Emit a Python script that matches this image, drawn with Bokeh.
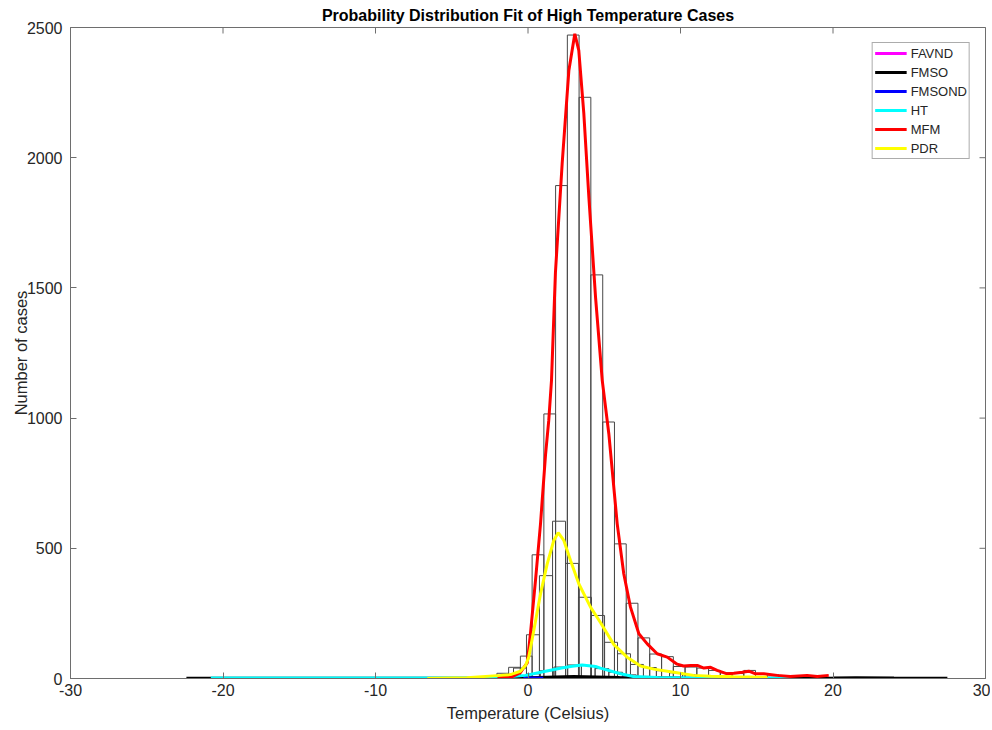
import math
from bokeh.plotting import figure
from bokeh.models import Range1d, LinearAxis, Legend, LegendItem, FixedTicker, PrintfTickFormatter
from bokeh.embed import file_html
from bokeh.resources import INLINE

# ---------------- data ----------------
x_ticks = [-30, -20, -10, 0, 10, 20, 30]
y_ticks = [0, 500, 1000, 1500, 2000, 2500]

# histogram of MFM cases
mfm_edges = [-2.04, -1.27, -0.50, 0.27, 1.04, 1.81, 2.58, 3.35, 4.12, 4.90, 5.67,
             6.44, 7.21, 7.98, 8.76, 9.53, 10.30, 11.07, 11.84, 12.61, 13.38,
             14.15, 14.92, 15.69, 16.46, 17.23, 18.00, 18.77, 19.54, 20.31]
mfm_counts = [20, 43, 86, 475, 1016, 1893, 2471, 2232, 1550, 985, 517,
              289, 156, 94, 84, 46, 44, 40, 31, 22, 19,
              31, 19, 14, 9, 8, 10, 6, 4]

# histogram of PDR cases
pdr_edges = [-1.80, -0.95, -0.10, 0.75, 1.61, 2.46, 3.31, 4.16, 5.02, 5.87, 6.72,
             7.57, 8.42, 9.28, 10.13, 10.98, 11.83, 12.68, 13.54, 14.39, 15.24]
pdr_counts = [10, 40, 168, 395, 604, 442, 312, 242, 139, 95,
              54, 42, 30, 22, 14, 10, 8, 6, 4, 3]

# histogram of HT cases
ht_edges = [-1.0, -0.1, 0.8, 1.7, 2.6, 3.5, 4.4, 5.3, 6.2, 7.1, 8.0]
ht_counts = [8, 18, 30, 44, 52, 50, 38, 24, 14, 8]

# fitted curves
favnd_x = [0.9, 2.0, 4.0, 6.0, 7.8]
favnd_y = [1, 2, 2, 1.5, 1]

fmso_x = [-22.4, -15.0, -8.0, -3.0, 0.0, 3.0, 6.0, 10.0, 15.0, 20.0, 21.5, 24.0, 27.5]
fmso_y = [1, 1, 1, 1.5, 3, 8, 4, 2, 1, 2, 3, 2, 1]

fmsond_x = [-0.3, 0.2, 0.6, 1.0]
fmsond_y = [1, 2, 2, 1]

ht_x = [-20.8, -15.0, -10.0, -6.0, -3.0, -1.5, -0.16, 1.15, 2.2, 2.9, 3.55,
        4.43, 4.75, 6.07, 6.9, 8.5, 11.0, 14.0, 17.2]
ht_y = [2, 2, 2, 2, 3, 6, 12, 28, 40, 47, 52, 46, 40, 18, 8, 4, 2, 1, 1]

mfm_x = [-2.0, -1.0, -0.5, -0.3, -0.05, 0.16, 0.49, 0.82, 1.15, 1.36, 1.54, 1.80,
         2.24, 2.68, 3.07, 3.33, 3.66, 3.99, 4.43, 4.87, 5.30, 5.85, 6.28, 6.72,
         7.27, 7.82, 8.47, 9.13, 9.78, 10.2, 10.66, 11.1, 11.53, 11.97, 12.4,
         13.06, 13.5, 14.05, 14.48, 14.92, 15.46, 16.34, 17.2, 18.3, 18.97, 19.72]
mfm_y = [2, 8, 22, 40, 60, 172, 376, 594, 860, 990, 1144, 1560,
         1977, 2335, 2476, 2412, 2170, 1849, 1464, 1144, 940, 594, 402, 274,
         172, 133, 95, 82, 55, 48, 50, 50, 40, 43, 31,
         18, 20, 24, 28, 18, 18, 12, 8, 12, 8, 12]

pdr_x = [-6.6, -4.0, -1.8, -1.15, -0.5, -0.16, 0.05, 0.38, 0.82, 1.26, 1.69, 1.98,
         2.35, 2.79, 3.33, 4.10, 4.75, 5.63, 6.5, 7.38, 8.25, 9.56, 10.87, 12.0,
         13.5, 15.7]
pdr_y = [0, 3, 12, 15, 28, 50, 82, 184, 325, 440, 530, 560,
         530, 453, 364, 274, 215, 130, 82, 48, 36, 24, 12, 9, 7, 5]

# ---------------- figure ----------------
AX_COL = "#6e6e6e"
TXT_COL = "#262626"
FONT = "Liberation Sans"

p = figure(width=990, height=728, output_backend="svg", toolbar_location=None,
           x_range=Range1d(-30, 30), y_range=Range1d(0, 2500),
           x_axis_type=None, y_axis_type=None,
           min_border_left=70, min_border_right=5, min_border_top=27,
           min_border_bottom=50)
p.outline_line_color = AX_COL
p.background_fill_color = "white"
p.border_fill_color = "white"


def make_axis(ticks):
    ax = LinearAxis(ticker=FixedTicker(ticks=ticks),
                    formatter=PrintfTickFormatter(format="%d"))
    ax.major_tick_in = 6
    ax.major_tick_out = 0
    ax.minor_tick_line_color = None
    ax.axis_line_color = AX_COL
    ax.major_tick_line_color = AX_COL
    ax.major_label_text_font = FONT
    ax.major_label_text_color = TXT_COL
    ax.major_label_text_font_size = "16px"
    ax.axis_label_text_font = FONT
    ax.axis_label_text_font_style = "normal"
    ax.axis_label_text_font_size = "16.5px"
    ax.axis_label_text_color = TXT_COL
    return ax


xb = make_axis(x_ticks)
xb.major_label_standoff = 5
xb.axis_label = "Temperature (Celsius)"
xb.axis_label_standoff = 5
p.add_layout(xb, "below")

yl = make_axis(y_ticks)
yl.major_label_standoff = 8
yl.axis_label = "Number of cases"
yl.axis_label_standoff = -6
p.add_layout(yl, "left")

# inward tick marks on the top and right edges of the box (outer half clipped)
p.scatter(x_ticks, [y_ticks[-1]] * len(x_ticks), marker="dash", size=12,
          angle=math.pi / 2, line_color=AX_COL, line_width=1)
p.scatter([x_ticks[-1]] * len(y_ticks), y_ticks, marker="dash", size=12,
          angle=0, line_color=AX_COL, line_width=1)

p.title.text = "Probability Distribution Fit of High Temperature Cases"
p.title.align = "center"
p.title.text_font = FONT
p.title.text_font_style = "bold"
p.title.text_font_size = "16px"
p.title.text_color = "black"
p.title.standoff = 8

# histograms
HIST_COL = "#484848"
for edges, counts in [(mfm_edges, mfm_counts), (pdr_edges, pdr_counts), (ht_edges, ht_counts)]:
    p.quad(left=edges[:-1], right=edges[1:], bottom=0, top=counts,
           fill_color=None, line_color=HIST_COL, line_width=1)

# curves
series = [
    ("FAVND", favnd_x, favnd_y, "#ff00ff"),
    ("FMSO", fmso_x, fmso_y, "#000000"),
    ("FMSOND", fmsond_x, fmsond_y, "#0000ff"),
    ("HT", ht_x, ht_y, "#00ffff"),
    ("MFM", mfm_x, mfm_y, "#ff0000"),
    ("PDR", pdr_x, pdr_y, "#ffff00"),
]
items = []
for name, xs, ys, col in series:
    r = p.line(xs, ys, line_color=col, line_width=3)
    items.append(LegendItem(label=name, renderers=[r]))

legend = Legend(items=items, location="top_right")
legend.margin = 15
legend.padding = 2
legend.spacing = 3
legend.glyph_width = 32
legend.glyph_height = 16
legend.label_height = 16
legend.label_standoff = 4
legend.label_text_font = FONT
legend.label_text_font_size = "13px"
legend.label_text_color = TXT_COL
legend.border_line_color = "#5a5a5a"
legend.border_line_width = 1
legend.background_fill_color = "white"
legend.background_fill_alpha = 1.0
p.add_layout(legend)

open("out.html", "w").write(file_html(p, INLINE))
